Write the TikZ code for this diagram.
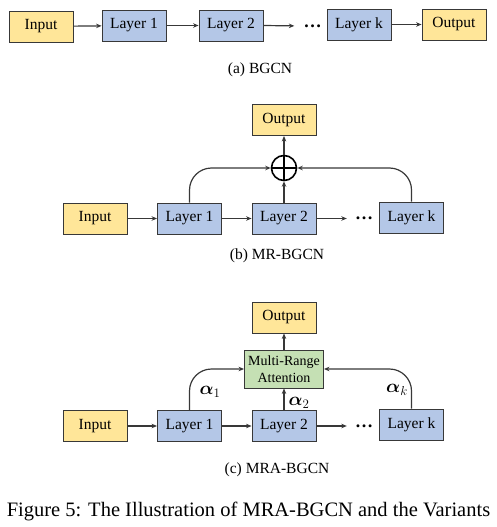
\RequirePackage{fix-cm}
\documentclass[tikz,border=0pt]{standalone}
\usepackage{fontspec}
\setmainfont{Liberation Serif}
\usepackage{amsmath,amssymb}
\usetikzlibrary{arrows.meta}

\definecolor{ioyellow}{HTML}{FFE699}
\definecolor{layerblue}{HTML}{B4C7E7}
\definecolor{attgreen}{HTML}{C5E0B4}
\definecolor{edgegray}{HTML}{383838}

\tikzset{
  box/.style={draw=edgegray, line width=0.9pt, minimum width=64pt, minimum height=31pt,
    inner sep=0pt, font=\fontsize{15.5}{18}\selectfont},
  io/.style={box, fill=ioyellow},
  layer/.style={box, fill=layerblue},
  attn/.style={box, fill=attgreen, minimum width=79pt, minimum height=38pt, align=center,
    font=\fontsize{14}{17.5}\selectfont},
  arr/.style={draw=edgegray, line width=1.2pt, -{Stealth[length=5.5pt,width=4.5pt]}},
  dotsnode/.style={inner sep=0pt, font=\fontsize{18}{18}\selectfont\bfseries},
  subcap/.style={font=\fontsize{15.5}{18}\selectfont},
  weight/.style={inner sep=0pt, font=\fontsize{18.5}{20}\selectfont},
}

\begin{document}
\begin{tikzpicture}[x=1pt,y=-1pt]
  \useasboundingbox (0,0) rectangle (496,527);

  % (a) BGCN
  \node[io] (ina) at (41,26.5) {Input};
  \node[layer] (l1a) at (134,25.5) {Layer 1};
  \node[layer] (l2a) at (231,25.5) {Layer 2};
  \node[dotsnode] (dotsa) at (312.5,26) {\dots};
  \node[layer] (lka) at (359,24.5) {Layer k};
  \node[io] (outa) at (454,24.5) {Output};
  \node[subcap] (capa) at (260,70) {(a) BGCN};
  \draw[arr] (ina) -- (l1a);
  \draw[arr] (l1a) -- (l2a);
  \draw[arr, shorten >=9pt] (l2a.east) -- (dotsa.west);
  \draw[arr] (lka) -- (outa);

  % (b) MR-BGCN
  \node[io] (outb) at (284,120) {Output};
  \node[circle, draw=black, line width=1.6pt, minimum size=25pt, inner sep=0pt] (sumb) at (284,168) {};
  \draw[line width=1.6pt] (sumb.north) -- (sumb.south) (sumb.west) -- (sumb.east);
  \node[io] (inb) at (95,218.5) {Input};
  \node[layer] (l1b) at (189.5,218.5) {Layer 1};
  \node[layer] (l2b) at (284,218.5) {Layer 2};
  \node[dotsnode] (dotsb) at (364,218.5) {\dots};
  \node[layer] (lkb) at (411.5,217.5) {Layer k};
  \node[subcap] (capb) at (277,256) {(b) MR-BGCN};
  \draw[arr] (inb) -- (l1b);
  \draw[arr] (l1b) -- (l2b);
  \draw[arr, shorten >=8pt] (l2b.east) -- (dotsb.west);
  \draw[arr, rounded corners=22pt] (l1b.north) |- (sumb.west);
  \draw[arr, rounded corners=22pt] (lkb.north) |- (sumb.east);
  \draw[arr] (l2b) -- (sumb);
  \draw[arr] (sumb) -- (outb);

  % (c) MRA-BGCN
  \node[io] (outc) at (284,317.5) {Output};
  \node[attn] (mra) at (284,369) {Multi-Range\\Attention};
  \node[io] (inc) at (95,426) {Input};
  \node[layer] (l1c) at (189.5,426) {Layer 1};
  \node[layer] (l2c) at (284,426) {Layer 2};
  \node[dotsnode] (dotsc) at (364,426) {\dots};
  \node[layer] (lkc) at (411.5,424.5) {Layer k};
  \node[subcap] (capc) at (277,470) {(c) MRA-BGCN};
  \draw[arr] (inc) -- (l1c);
  \draw[arr] (l1c) -- (l2c);
  \draw[arr, shorten >=8pt] (l2c.east) -- (dotsc.west);
  \draw[arr, rounded corners=22pt] (l1c.north) |- (mra.west);
  \draw[arr, rounded corners=22pt] (lkc.north) |- (mra.east);
  \draw[arr] (l2c) -- (mra);
  \draw[arr] (mra) -- (outc);
  \node[weight] (w1) at (210,392) {$\boldsymbol{\alpha}_1$};
  \node[weight] (w2) at (299,403) {$\boldsymbol{\alpha}_2$};
  \node[weight] (wk) at (397,390) {$\boldsymbol{\alpha}_k$};

  % figure caption
  \node[font=\fontsize{20.5}{24}\selectfont] (figcap) at (248.5,511) {Figure 5: The Illustration of MRA-BGCN and the Variants};
\end{tikzpicture}
\end{document}
